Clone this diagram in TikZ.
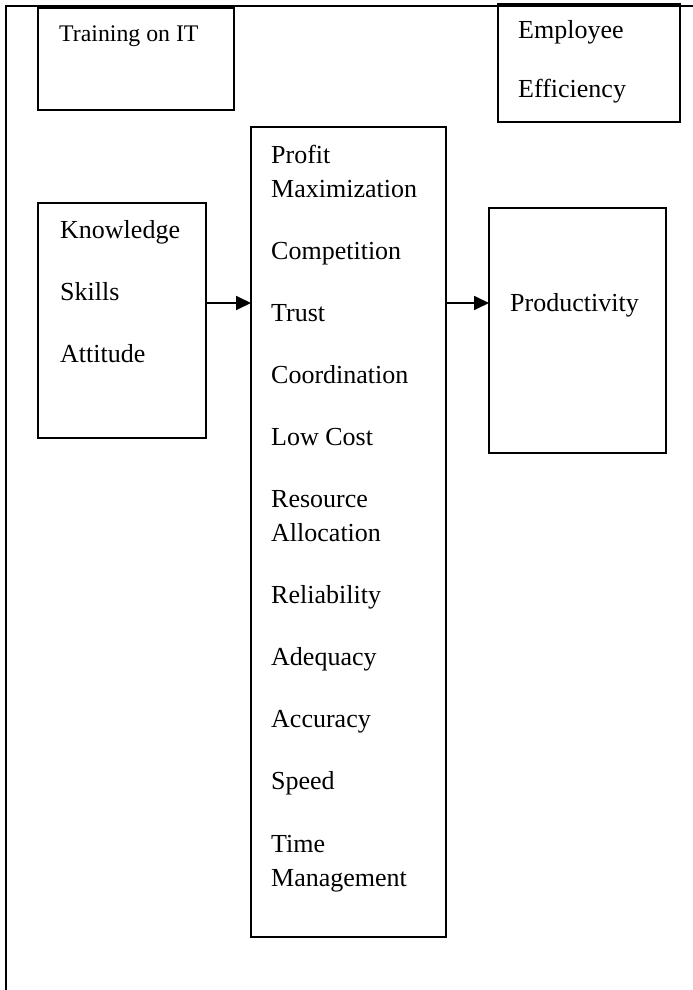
\documentclass[tikz,border=0pt]{standalone}
\usepackage{fontspec}
\setmainfont{Liberation Serif}
\usetikzlibrary{arrows.meta}
\begin{document}
\begin{tikzpicture}[x=1pt,y=-1pt,
  box/.style={draw,line width=1.5pt,rectangle,anchor=north west,inner sep=0pt,outer sep=0pt},
  lbl/.style={anchor=base west,inner sep=0pt,font=\fontsize{26}{30}\selectfont},
  smalllbl/.style={anchor=base west,inner sep=0pt,font=\fontsize{23.8}{28}\selectfont},
  arr/.style={line width=1.8pt,-{Triangle[length=15pt,width=14pt]}}]
\useasboundingbox (0,0) rectangle (693,990);
% outer frame
\coordinate (fbl) at (6,990);
\coordinate (ftl) at (6,6);
\coordinate (ftr) at (693,6);
\draw[line width=1.5pt] (fbl) -- (ftl) -- (ftr);
% boxes
\node[box,minimum width=196pt,minimum height=102pt] (train) at (38,8) {};
\node[box,minimum width=182pt,minimum height=118pt] (empl) at (498,4) {};
\node[box,minimum width=168pt,minimum height=235pt] (know) at (38,203) {};
\node[box,minimum width=195pt,minimum height=810pt] (mid) at (251,127) {};
\node[box,minimum width=177pt,minimum height=245pt] (prod) at (489,208) {};
% texts
\node[smalllbl] (t1) at (59,42) {Training on IT};
\node[lbl] (e1) at (518,38) {Employee};
\node[lbl] (e2) at (518,97) {Efficiency};
\node[lbl] (k1) at (60,238) {Knowledge};
\node[lbl] (k2) at (60,300) {Skills};
\node[lbl] (k3) at (60,362) {Attitude};
\node[lbl] (p1) at (510,311) {Productivity};
\node[lbl] (m1) at (271,163) {Profit};
\node[lbl] (m2) at (271,197) {Maximization};
\node[lbl] (m3) at (271,259) {Competition};
\node[lbl] (m4) at (271,321) {Trust};
\node[lbl] (m5) at (271,383) {Coordination};
\node[lbl] (m6) at (271,445) {Low Cost};
\node[lbl] (m7) at (271,507) {Resource};
\node[lbl] (m8) at (271,541) {Allocation};
\node[lbl] (m9) at (271,603) {Reliability};
\node[lbl] (m10) at (271,665) {Adequacy};
\node[lbl] (m11) at (271,727) {Accuracy};
\node[lbl] (m12) at (271,789) {Speed};
\node[lbl] (m13) at (271,852) {Time};
\node[lbl] (m14) at (271,886) {Management};
% arrows
\draw[arr] (know.east |- 0,303) -- (mid.west |- 0,303);
\draw[arr] (mid.east |- 0,303) -- (prod.west |- 0,303);
\end{tikzpicture}
\end{document}
